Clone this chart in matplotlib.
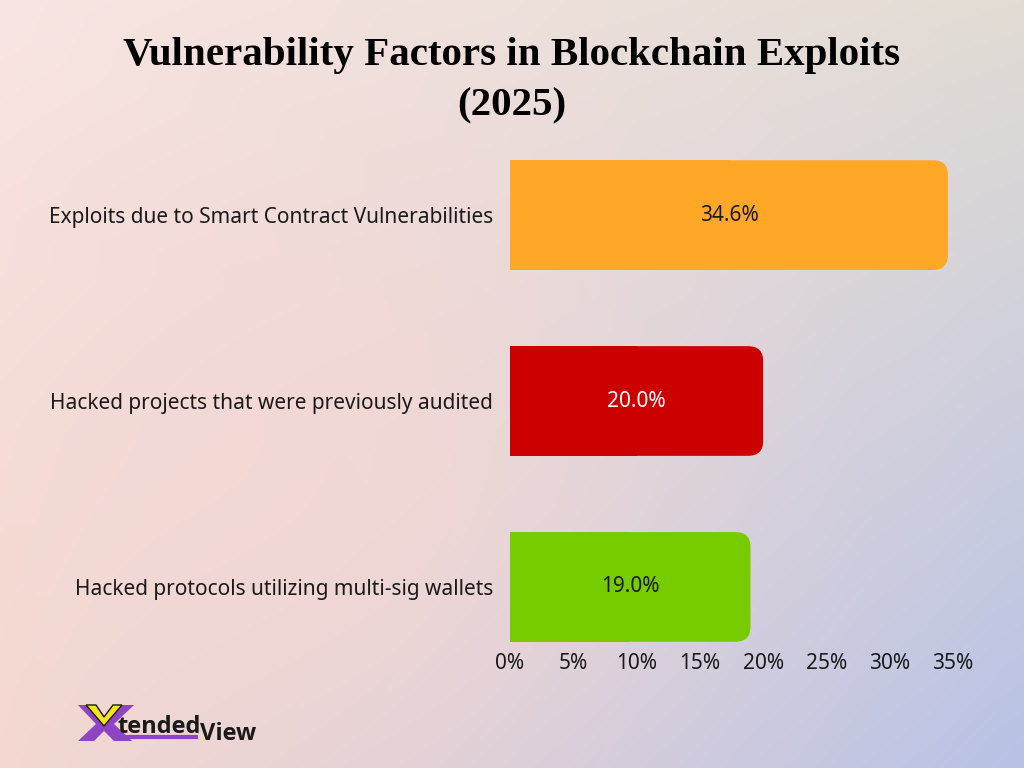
import numpy as np
import matplotlib
matplotlib.use("Agg")
import matplotlib.pyplot as plt
from matplotlib.patches import FancyBboxPatch, Rectangle, Polygon

categories = ["Exploits due to Smart Contract Vulnerabilities",
              "Hacked projects that were previously audited",
              "Hacked protocols utilizing multi-sig wallets"]
values = [34.6, 20.0, 19.0]
colors = ["#FFA726", "#CC0000", "#77CC00"]
text_colors = ["#1a1a1a", "white", "#1a1a1a"]
ticks = [0, 5, 10, 15, 20, 25, 30, 35]
title = "Vulnerability Factors in Blockchain Exploits\n(2025)"

W, H = 1024, 768
fig = plt.figure(figsize=(W / 100, H / 100), dpi=100)

# background: four-corner gradient plus a soft pink glow on the left
bg = fig.add_axes([0, 0, 1, 1])
tl = np.array([249, 230, 228]) / 255
tr = np.array([226, 220, 212]) / 255
bl = np.array([243, 216, 208]) / 255
br = np.array([184, 194, 230]) / 255
u = np.linspace(0, 1, 256)[None, :, None]
v = np.linspace(0, 1, 192)[:, None, None]
img = (1 - v) * ((1 - u) * tl + u * tr) + v * ((1 - u) * bl + u * br)
pink = np.array([248, 216, 210]) / 255
d2 = ((u - 0.3) / 0.35) ** 2 + ((v - 0.62) / 0.45) ** 2
wgt = 0.65 * np.exp(-d2)
img = img * (1 - wgt) + pink * wgt
bg.imshow(img, aspect="auto", extent=[0, 1, 0, 1], origin="upper")
bg.set_xlim(0, 1)
bg.set_ylim(0, 1)
bg.axis("off")

fig.text(0.5, 0.895, title, ha="center", va="center", fontsize=29.5,
         fontweight="bold", family="Liberation Serif", linespacing=1.5,
         color="black")

ax = fig.add_axes([510 / W, 1 - 652 / H, 443 / W, 502 / H])
ax.patch.set_alpha(0)
y = np.arange(len(categories))
bar_h = 0.59
bars = ax.barh(y, values, height=bar_h, color="none")
ax.set_xlim(0, 35)
ax.set_ylim(2.35, -0.35)

r = 1.2
aspect = 0.08 / r
font = "Noto Sans"
for b, c, tc, val in zip(bars, colors, text_colors, values):
    x0, y0 = b.get_x(), b.get_y()
    w, h = b.get_width(), b.get_height()
    ax.add_patch(FancyBboxPatch((x0, y0), w, h,
                                boxstyle=f"round,pad=0,rounding_size={r}",
                                mutation_aspect=aspect, fc=c, ec="none"))
    ax.add_patch(Rectangle((x0, y0), w / 2, h, fc=c, ec="none"))
    ax.text(w / 2, y0 + h / 2, f"{val:.1f}%", ha="center", va="center",
            fontsize=15, color=tc, family=font)

ax.set_yticks(y)
ax.set_yticklabels(categories, fontsize=15, family=font, color="#1a1a1a")
ax.set_xticks(ticks)
ax.set_xticklabels([f"{t}%" for t in ticks], fontsize=15, family=font,
                   color="#1a1a1a")
ax.tick_params(length=0)
ax.tick_params(axis="x", pad=1)
ax.tick_params(axis="y", pad=12)
for s in ax.spines.values():
    s.set_visible(False)

# logo
lg = fig.add_axes([0, 0, 1, 1])
lg.set_xlim(0, W)
lg.set_ylim(H, 0)
lg.axis("off")
purple = "#8E44C4"
lg.add_patch(Polygon([[78, 705], [96, 705], [106, 718], [118, 705], [134, 705],
                      [114, 724], [132, 741], [114, 741], [104, 731], [94, 741],
                      [78, 741], [96, 724]], closed=True, fc=purple, ec="none"))
lg.add_patch(Polygon([[86, 705], [96, 705], [104, 717], [113, 705], [122, 705],
                      [104, 726]], closed=True, fc="#F4E61A", ec="#1a1a1a", lw=1))
lg.plot([112, 198], [737, 737], color=purple, lw=3, solid_capstyle="butt")
lg.text(117, 733, "tended", fontsize=17, fontweight="bold", color="#1a1a1a",
        family="Open Sans", va="baseline")
lg.text(200, 740, "View", fontsize=17, fontweight="bold", color="#1a1a1a",
        family="Open Sans", va="baseline")

fig.savefig("out.png", dpi=100)
